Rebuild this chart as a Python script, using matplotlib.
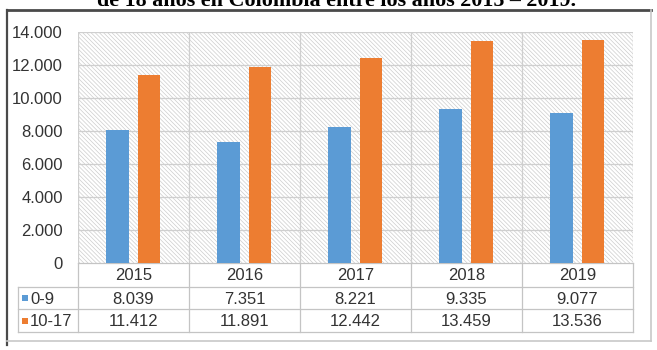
import matplotlib
matplotlib.use("Agg")
import matplotlib.pyplot as plt
from matplotlib.patches import Rectangle
import numpy as np

# Casos por año y grupo de edad
years = ["2015", "2016", "2017", "2018", "2019"]
series_names = ["0-9", "10-17"]
values_0_9 = [8039, 7351, 8221, 9335, 9077]
values_10_17 = [11412, 11891, 12442, 13459, 13536]
y_ticks = [0, 2000, 4000, 6000, 8000, 10000, 12000, 14000]
title = "de 18 años en Colombia entre los años 2015 – 2019."

BLUE = "#5B9BD5"
ORANGE = "#ED7D31"
GRID = "#CFCFCF"
TEXT = "#333333"

W, H = 657, 350
plt.rcParams["font.family"] = ["Liberation Sans", "DejaVu Sans"]
plt.rcParams["hatch.linewidth"] = 0.5
plt.rcParams["hatch.color"] = "#CDCDCD"

fig = plt.figure(figsize=(W / 100, H / 100), dpi=100)


def fr(x0, y0, x1, y1):
    """Pixel box (top-left origin) to figure-fraction rect."""
    return [x0 / W, 1 - y1 / H, (x1 - x0) / W, (y1 - y0) / H]


# plot area geometry in pixels
PL, PR, PT, PB = 78, 633, 32, 263
ROW1, ROW2, TB = 287, 309, 332
LEG_L = 18

# overlay in pixel units for frame and table
ov = fig.add_axes([0, 0, 1, 1])
ov.set_xlim(0, W)
ov.set_ylim(H, 0)
ov.axis("off")

ax = fig.add_axes(fr(PL, PT, PR, PB))
n = len(years)
x = np.arange(n)
ax.set_xlim(-0.5, n - 0.5)
ax.set_ylim(0, 14000)

# hatched background
ax.add_patch(Rectangle((0, 0), 1, 1, transform=ax.transAxes, facecolor="white",
                       hatch="\\" * 8, edgecolor="#CDCDCD", linewidth=0, zorder=0))

for t in y_ticks:
    ax.axhline(t, color=GRID, lw=0.9, zorder=1)
for b in np.arange(-0.5, n, 1.0):
    ax.axvline(b, color=GRID, lw=0.9, zorder=1)

ax.bar(x - 0.145, values_0_9, width=0.205, color=BLUE, zorder=3)
ax.bar(x + 0.14, values_10_17, width=0.205, color=ORANGE, zorder=3)

ax.set_yticks(y_ticks)
ax.set_yticklabels([f"{t:,}".replace(",", ".") for t in y_ticks],
                   fontsize=12, color=TEXT)
ax.tick_params(axis="y", length=0, pad=11)
ax.set_xticks([])
for s in ax.spines.values():
    s.set_visible(False)

# data table below the plot
col_w = (PR - PL) / n
lc = "#C4C4C4"
ov.plot([PL, PR], [PB, PB], color=lc, lw=0.9)
for yy in (ROW1, ROW2, TB):
    ov.plot([LEG_L, PR], [yy, yy], color=lc, lw=0.9)
ov.plot([LEG_L, LEG_L], [ROW1, TB], color=lc, lw=0.9)
for i in range(n + 1):
    xb = PL + i * col_w
    ov.plot([xb, xb], [PB, TB], color=lc, lw=0.9)

fmt = lambda v: f"{v:,}".replace(",", ".")
for i, yr in enumerate(years):
    cx = PL + (i + 0.5) * col_w
    ov.text(cx, (PB + ROW1) / 2 + 1, yr, ha="center", va="center", fontsize=12, color=TEXT)
    ov.text(cx, (ROW1 + ROW2) / 2 + 1, fmt(values_0_9[i]), ha="center", va="center",
            fontsize=12, color=TEXT)
    ov.text(cx, (ROW2 + TB) / 2 + 1, fmt(values_10_17[i]), ha="center", va="center",
            fontsize=12, color=TEXT)

for (name, col, y0, y1) in ((series_names[0], BLUE, ROW1, ROW2),
                            (series_names[1], ORANGE, ROW2, TB)):
    cy = (y0 + y1) / 2
    ov.add_patch(Rectangle((22, cy - 3), 6, 6, facecolor=col, edgecolor="none"))
    ov.text(30, cy + 1, name, ha="left", va="center", fontsize=12, color=TEXT)

# outer frame
ov.plot([7, 651], [9.5, 9.5], color="#4A4A4A", lw=2.0)
ov.plot([7, 7], [9.5, 345], color="#4A4A4A", lw=1.6)
ov.plot([651, 651], [9.5, 341], color="#C8C8C8", lw=1.2)
ov.plot([7, 651], [341, 341], color="#C8C8C8", lw=1.2)

# caption line above the frame (continues from the previous page)
ov.text(337, 5.5, title, ha="center", va="baseline", fontsize=15.8,
        fontweight="bold", family=["Liberation Serif", "DejaVu Serif"], color="black")

fig.savefig("out.png", dpi=100)
